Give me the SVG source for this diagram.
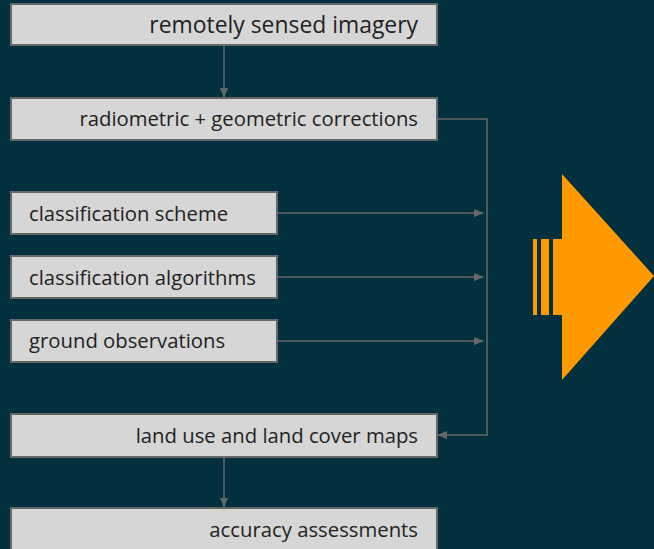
<svg xmlns="http://www.w3.org/2000/svg" width="654" height="549" viewBox="0 0 654 549">
<style>
.box{fill:#d6d6d6;stroke:#666;stroke-width:2}
.t{font-family:"Open Sans",Lato,sans-serif;font-size:20.3px;fill:#222;font-variant-ligatures:none}
.big{font-size:22.9px}
.c{stroke:#666;stroke-width:1.5;fill:none}
</style>
<defs>
<marker id="ah" markerWidth="10" markerHeight="10" refX="9" refY="5" orient="auto" markerUnits="userSpaceOnUse" viewBox="0 0 10 10">
<path d="M0,1 L10,5 L0,9 Z" fill="#666"/>
</marker>
</defs>
<rect width="654" height="549" fill="#03303f"/>
<g id="n1"><rect class="box" x="11" y="4" width="426" height="41"/><text class="t big" x="418" y="33" text-anchor="end">remotely sensed imagery</text></g>
<g id="n2"><rect class="box" x="11" y="98" width="426" height="42"/><text class="t" x="418" y="126" text-anchor="end">radiometric + geometric corrections</text></g>
<g id="n3"><rect class="box" x="11" y="192" width="266" height="42"/><text class="t" x="29" y="220.5">classification scheme</text></g>
<g id="n4"><rect class="box" x="11" y="256" width="266" height="42"/><text class="t" x="29" y="284.5">classification algorithms</text></g>
<g id="n5"><rect class="box" x="11" y="320" width="266" height="42"/><text class="t" x="29" y="347.5">ground observations</text></g>
<g id="n6"><rect class="box" x="11" y="414" width="426" height="43"/><text class="t" x="418" y="442.5" text-anchor="end">land use and land cover maps</text></g>
<g id="n7"><rect class="box" x="11" y="508" width="426" height="50"/><text class="t" x="418" y="536.5" text-anchor="end">accuracy assessments</text></g>
<g id="connectors">
<line class="c" x1="224" y1="45" x2="224" y2="97" marker-end="url(#ah)"/>
<line class="c" x1="224" y1="457" x2="224" y2="507" marker-end="url(#ah)"/>
<polyline class="c" points="437,119 487,119 487,435 438,435" marker-end="url(#ah)"/>
<line class="c" x1="277" y1="213" x2="483" y2="213" marker-end="url(#ah)"/>
<line class="c" x1="277" y1="277" x2="483" y2="277" marker-end="url(#ah)"/>
<line class="c" x1="277" y1="341" x2="483" y2="341" marker-end="url(#ah)"/>
</g>
<g id="bigarrow" fill="#ff9900">
<polygon points="562,174 654,276 562,380 562,315 553,315 553,239 562,239"/>
<rect x="533" y="239" width="4" height="76"/>
<rect x="541" y="239" width="8" height="76"/>
</g>
</svg>
